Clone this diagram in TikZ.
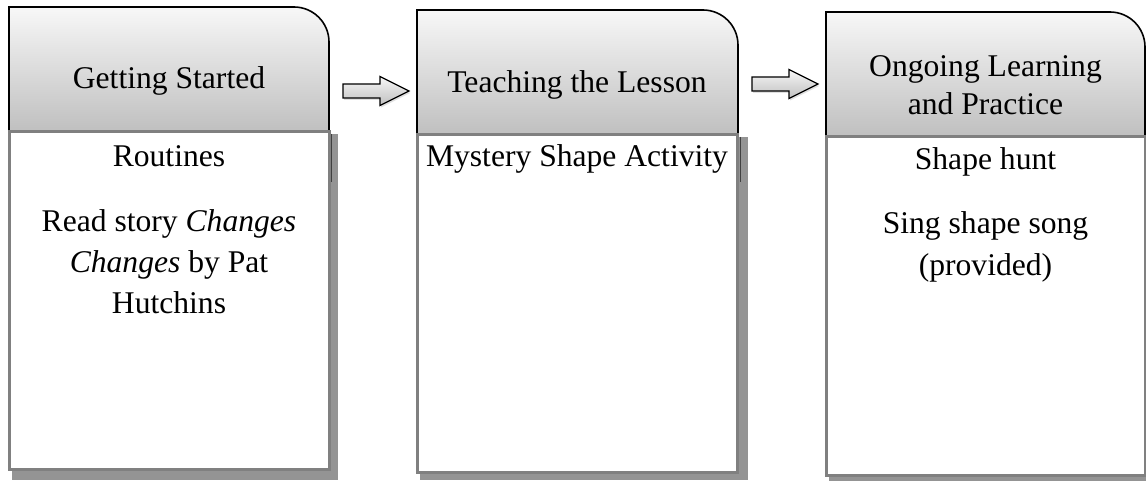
\documentclass[tikz,border=0pt]{standalone}
\usepackage{fontspec}
\setmainfont{Liberation Serif}
\usetikzlibrary{shadows}
\begin{document}
\begin{tikzpicture}[x=1pt,y=-1pt,
  hdr/.style={draw=black, line width=1.6pt, top color=black!3, bottom color=black!25},
  bodybox/.style={draw=black!50, line width=3pt, fill=white},
  shadowbox/.style={fill=black!42, draw=none},
  glint/.style={draw=black!75, line width=1.5pt},
  htext/.style={font=\fontsize{31.6}{38}\selectfont, align=center, inner sep=0pt, anchor=base},
  btext/.style={font=\fontsize{31.6}{41}\selectfont, align=center, inner sep=0pt, anchor=base},
  blockarrow/.style={draw=black, line width=1.3pt, top color=black!3, bottom color=black!25, line join=miter,
    drop shadow={opacity=0.25, shadow xshift=1pt, shadow yshift=-2pt}},
]
\useasboundingbox (0,0) rectangle (1146,481);

% ---------- Box 1 ----------
\fill[shadowbox] (12,134) rectangle (338,480);
\draw[hdr] (9,132) -- (9,7) -- (294,7) .. controls (313.3,7) and (329,22.7) .. (329,42) -- (329,132) -- cycle;
\draw[glint] (331.5,134) -- (331.5,182);
\draw[bodybox] (9,132) rectangle (329,469);
\node[htext] (h1) at (169,89) {Getting Started};
\node[btext] (b1a) at (169,167) {Routines};
\node[btext] (b1b) at (169,313) {Read story \textit{Changes}\\\textit{Changes} by Pat\\Hutchins};

% ---------- Box 2 ----------
\fill[shadowbox] (420,137) rectangle (748,480);
\draw[hdr] (417,135) -- (417,10) -- (703,10) .. controls (722.3,10) and (738,25.7) .. (738,45) -- (738,135) -- cycle;
\draw[glint] (740.5,137) -- (740.5,182);
\draw[bodybox] (417,135) rectangle (737,472);
\node[htext] (h2) at (577,93) {Teaching the Lesson};
\node[btext] (b2a) at (577,167) {Mystery Shape Activity};

% ---------- Box 3 ----------
\fill[shadowbox] (829,139) rectangle (1155,486);
\draw[hdr] (826,137) -- (826,12) -- (1110,12) .. controls (1129.3,12) and (1145,27.7) .. (1145,47) -- (1145,137) -- cycle;
\draw[bodybox] (826,137) rectangle (1145,475);
\node[htext] (h3) at (985.5,115) {Ongoing Learning\\and Practice};
\node[btext] (b3a) at (985.5,170) {Shape hunt};
\node[btext] (b3b) at (985.5,275) {Sing shape song\\(provided)};

% ---------- Block arrows ----------
\coordinate (a1) at (343,91);
\coordinate (a2) at (752,84);
\draw[blockarrow] (a1) ++(0,-7) -- ++(37,0) -- ++(0,-7.5) -- ++(29,14.5) -- ++(-29,14.5) -- ++(0,-7.5) -- ++(-37,0) -- cycle;
\draw[blockarrow] (a2) ++(0,-7) -- ++(37,0) -- ++(0,-7.5) -- ++(29,14.5) -- ++(-29,14.5) -- ++(0,-7.5) -- ++(-37,0) -- cycle;
\end{tikzpicture}
\end{document}
